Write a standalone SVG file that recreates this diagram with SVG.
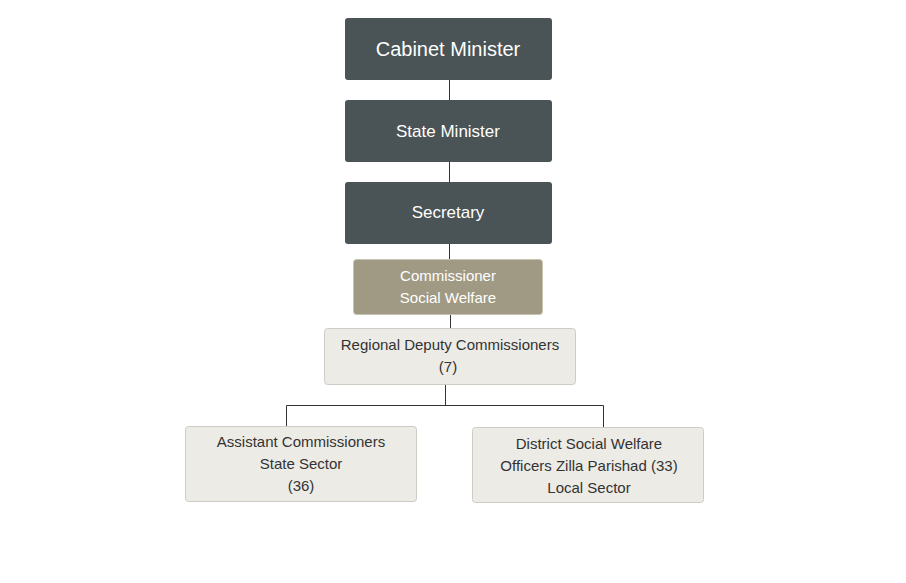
<svg xmlns="http://www.w3.org/2000/svg" width="906" height="583" viewBox="0 0 906 583">
<style>
.dark{fill:#4a5355;}
.tan{fill:#a09a84;stroke:#c8c4b4;stroke-width:1;}
.light{fill:#edebe6;stroke:#cfccc6;stroke-width:1;}
.w{fill:#ffffff;font-family:"Liberation Sans",Arial,sans-serif;text-anchor:middle;}
.t{fill:#333333;font-family:"Liberation Sans",Arial,sans-serif;font-size:15px;text-anchor:middle;}
.c{stroke:#333;stroke-width:1;fill:none;}
</style>
<rect width="906" height="583" fill="#fff"/>
<g id="connectors">
<path class="c" d="M449.5 80V100M449.5 162V182M449.5 244V259M450.5 314V328M445.5 385V405.5M286.5 426V405.5H603.5V427"/>
</g>
<g id="n1"><rect class="dark" x="345" y="18" width="207" height="62" rx="3"/><text class="w" x="448" y="56" font-size="20">Cabinet Minister</text></g>
<g id="n2"><rect class="dark" x="345" y="100" width="207" height="62" rx="3"/><text class="w" x="448" y="137" font-size="17">State Minister</text></g>
<g id="n3"><rect class="dark" x="345" y="182" width="207" height="62" rx="3"/><text class="w" x="448" y="218" font-size="17">Secretary</text></g>
<g id="n4"><rect class="tan" x="353.5" y="259.5" width="189" height="55" rx="3"/><text class="w" x="448" y="281" font-size="15">Commissioner</text><text class="w" x="448" y="303" font-size="15">Social Welfare</text></g>
<g id="n5"><rect class="light" x="324.5" y="328.5" width="251" height="56" rx="3"/><text class="t" x="450" y="350">Regional Deputy Commissioners</text><text class="t" x="448" y="372">(7)</text></g>
<g id="n6"><rect class="light" x="185.5" y="426.5" width="231" height="75" rx="3"/><text class="t" x="301" y="447">Assistant Commissioners</text><text class="t" x="301" y="469">State Sector</text><text class="t" x="301" y="491">(36)</text></g>
<g id="n7"><rect class="light" x="472.5" y="427.5" width="231" height="75" rx="3"/><text class="t" x="589" y="449">District Social Welfare</text><text class="t" x="589" y="471">Officers Zilla Parishad (33)</text><text class="t" x="589" y="493">Local Sector</text></g>
</svg>
